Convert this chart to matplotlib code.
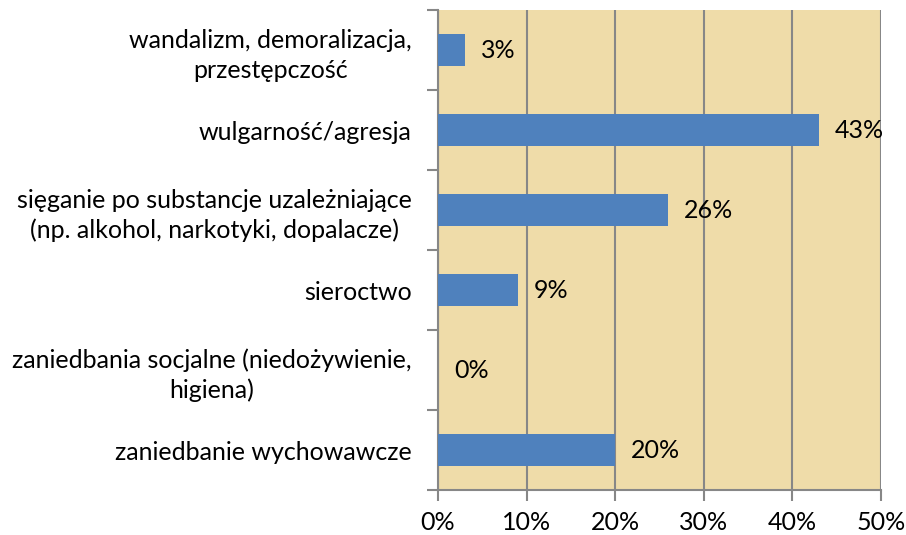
import matplotlib.pyplot as plt

plt.rcParams['font.family'] = ['Lato', 'DejaVu Sans']

# Dane (od dołu do góry)
kategorie = [
    'zaniedbanie wychowawcze',
    'zaniedbania socjalne (niedożywienie,\nhigiena)',
    'sieroctwo',
    'sięganie po substancje uzależniające\n(np. alkohol, narkotyki, dopalacze)',
    'wulgarność/agresja',
    'wandalizm, demoralizacja,\nprzestępczość',
]
wartosci = [20, 0, 9, 26, 43, 3]
etykiety_x = ['0%', '10%', '20%', '30%', '40%', '50%']

fs = 18

fig = plt.figure(figsize=(9.06, 5.35), dpi=100)
ax = fig.add_axes([438 / 906, 1 - 490 / 535, 443 / 906, 480 / 535])
ax.set_facecolor('#EFDCA9')

y = list(range(len(kategorie)))
ax.barh(y, wartosci, height=0.4, color='#4F81BD', zorder=3)

# Etykiety wartości
for yi, v in zip(y, wartosci):
    ax.annotate(f'{v}%', (v, yi), xytext=(16, 0), textcoords='offset pixels',
                ha='left', va='center', fontsize=fs, color='black', zorder=4)

ax.set_xlim(0, 50)
ax.set_ylim(-0.5, len(kategorie) - 0.5)

# Oś X
ax.set_xticks(range(0, 51, 10), etykiety_x)
ax.tick_params(axis='x', length=8, width=1.5, color='#878787', pad=7, labelsize=fs)
ax.grid(axis='x', color='#878787', linewidth=1.5, zorder=1)

# Oś Y - znaczniki na granicach kategorii, etykiety pośrodku
ax.set_yticks([i - 0.5 for i in range(len(kategorie) + 1)], [''] * (len(kategorie) + 1))
ax.set_yticks(y, kategorie, minor=True, multialignment='center')
ax.tick_params(axis='y', which='major', length=8, width=1.5, color='#878787')
ax.tick_params(axis='y', which='minor', length=0, pad=19, labelsize=fs)
for t in ax.get_yticklabels(minor=True):
    t.set_linespacing(1.35)

for s in ['top', 'right']:
    ax.spines[s].set_visible(False)
for s in ['left', 'bottom']:
    ax.spines[s].set_color('#878787')
    ax.spines[s].set_linewidth(1.5)

fig.savefig('out.png', dpi=100)
